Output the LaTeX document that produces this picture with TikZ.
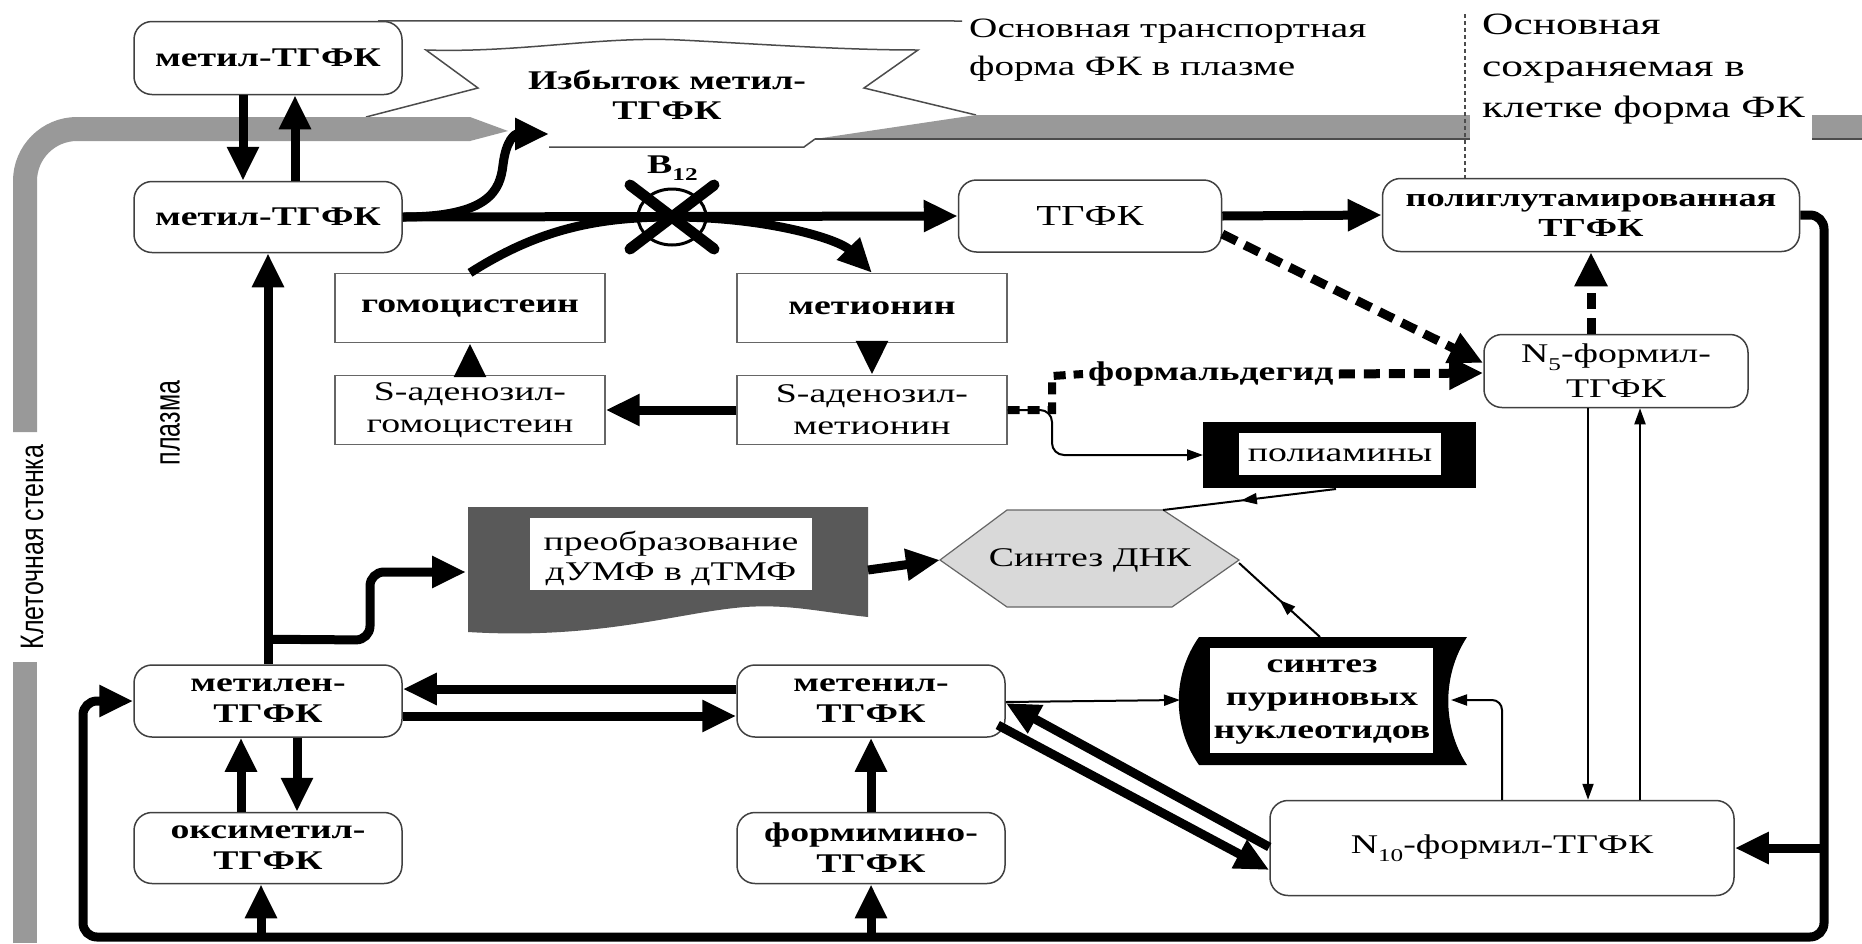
\documentclass[tikz,border=0pt]{standalone}
\usepackage{fontspec}
\usepackage{graphicx}
\setmainfont[FakeStretch=1.4]{Liberation Serif}
\newfontfamily\sansf{Liberation Sans}
\usetikzlibrary{arrows.meta,decorations.markings}
\newcommand{\mysub}[1]{\raisebox{-0.28em}{\fontsize{18}{18}\selectfont #1}}
\begin{document}
\begin{tikzpicture}[x=1pt,y=-1pt,
  every node/.style={font=\fontsize{27}{31}\selectfont, inner sep=0pt, align=center},
  bft/.style={font=\fontsize{27}{31}\selectfont\bfseries},
  rbox/.style={draw=black!75, line width=1.5pt, rounded corners=18pt, fill=white},
  sbox/.style={draw=black!60, line width=1.3pt, fill=white, minimum width=270pt, minimum height=69pt},
  thk/.style={line width=9pt, -{Triangle[length=34pt,width=30pt]}},
  thn/.style={line width=2pt, -{Triangle[length=16pt,width=11pt]}},
  dsh/.style={line width=9pt, dash pattern=on 16pt off 9pt, -{Triangle[length=34pt,width=31pt]}},
  midarr/.style={line width=2pt, postaction={decorate}, decoration={markings, mark=at position #1 with {\arrow{Triangle[length=16pt,width=11pt]}}}},
  wall/.style={line width=24pt, draw=black!40},
  thinl/.style={line width=1.5pt, draw=black!70},
]
\fill[white] (0,0) rectangle (1862,943);
\useasboundingbox (0,0) rectangle (1862,943);

% coordinates
\coordinate (xs) at (549,134);
\coordinate (b12) at (672,217);
\coordinate (dumpL) at (466,572);
\coordinate (dumpR) at (868,570);
\coordinate (dnaL) at (940,560);
\coordinate (dnaTR) at (1163,510);
\coordinate (dnaR) at (1239,563);
\coordinate (polyL) at (1203,455);
\coordinate (polyB) at (1336,489);
\coordinate (purL) at (1180,700);
\coordinate (purR) at (1451,700);
\coordinate (purT) at (1320,637);
\coordinate (cR) at (1824,0);
\coordinate (cB) at (0,937);
\coordinate (cL) at (83,0);
\coordinate (annA) at (962,21);
\coordinate (dv) at (1465,14);

% callout
\fill[white] (426,50) .. controls (520,53) and (600,36) .. (680,40) .. controls (760,44) and (840,50) .. (918,50) -- (864,88) -- (976,115) -- (815,139) -- (804,147) -- (549,147) -- (500,140) -- (366,117) -- (478,88) -- cycle;
\draw[thinl] (366,117) -- (478,88) -- (426,50) .. controls (520,53) and (600,36) .. (680,40) .. controls (760,44) and (840,50) .. (918,50) -- (864,88) -- (976,115);
\draw[thinl] (815,139) -- (804,147) -- (549,147);

% cell wall
\draw[wall] (25,943) -- (25,662);
\draw[wall, rounded corners=52pt] (25,432) -- (25,129) -- (470,129);
\fill[black!40] (470,117) -- (508,131) -- (470,141) -- cycle;
\fill[black!40] (815,139) -- (976,115) -- (1862,115) -- (1862,139) -- cycle;
\draw[line width=1.5pt, black!70] (815,139) -- (1862,139);
\fill[white] (1470,96) rectangle (1812,141);

% special shapes
\fill[black!65] (468,507) -- (868,507) -- (868,617) .. controls (820,612) and (790,604) .. (745,607) .. controls (680,612) and (600,640) .. (468,632) -- cycle;
\fill[white] (530,518) rectangle (812,590);
\filldraw[fill=black!15, draw=black!60, line width=1.2pt] (dnaL) -- (1007,510) -- (dnaTR) -- (1239,560) -- (1172,607) -- (1007,607) -- cycle;
\fill[black] (1203,422) rectangle (1476,488);
\fill[white] (1239,433) rectangle (1441,475);
\fill[black] (1199,637) -- (1467,637) .. controls (1442,675) and (1442,727) .. (1467,765) -- (1199,765) .. controls (1172,727) and (1172,675) .. (1199,637) -- cycle;
\fill[white] (1210,648) rectangle (1433,753);

% nodes
\node[rbox,bft,minimum width=268pt,minimum height=73pt] (m1) at (268,58) {метил-ТГФК};
\node[rbox,bft,minimum width=268pt,minimum height=71pt] (m2) at (268,217) {метил-ТГФК};
\node[rbox,minimum width=263pt,minimum height=72pt,font=\fontsize{29}{31}\selectfont] (tg) at (1090,216) {ТГФК};
\node[rbox,minimum width=417pt,minimum height=73pt,font=\fontsize{26}{30}\selectfont\bfseries] (pg) at (1591,215) {полиглутамированная\\ТГФК};
\node[sbox,bft] (hc) at (470,308) {гомоцистеин};
\node[sbox,bft] (mt) at (872,308) {метионин};
\node[sbox,font=\fontsize{27}{32}\selectfont] (sah) at (470,410) {S-аденозил-\\гомоцистеин};
\node[sbox,font=\fontsize{27}{32}\selectfont] (sam) at (872,410) {S-аденозил-\\метионин};
\node[rbox,minimum width=264pt,minimum height=73pt,font=\fontsize{27}{35}\selectfont] (n5) at (1616,371) {N\mysub{5}-формил-\\ТГФК};
\node[rbox,minimum width=464pt,minimum height=95pt] (n10) at (1502,848) {N\mysub{10}-формил-ТГФК};
\node[rbox,bft,minimum width=268pt,minimum height=72pt] (mlen) at (268,701) {метилен-\\ТГФК};
\node[rbox,bft,minimum width=268pt,minimum height=72pt] (mten) at (871,701) {метенил-\\ТГФК};
\node[rbox,bft,minimum width=268pt,minimum height=71pt] (oxy) at (268,848) {оксиметил-\\ТГФК};
\node[rbox,bft,minimum width=268pt,minimum height=71pt] (frm) at (871,848) {формимино-\\ТГФК};

\node[font=\fontsize{27}{30}\selectfont] (dump) at (671,558) {преобразование\\дУМФ в дТМФ};
\node (dna) at (1090,560) {Синтез ДНК};
\node (poly) at (1340,455) {полиамины};
\node[font=\fontsize{27}{33}\selectfont\bfseries] (pur) at (1322,702) {синтез\\пуриновых\\нуклеотидов};
\node[font=\fontsize{27}{30}\selectfont\bfseries] (exc) at (667,95) {Избыток метил-\\ТГФК};
\node[anchor=west, bft, inner sep=5pt] (fm) at (1083,374) {формальдегид};
\node[anchor=west] (b12l) at (647,168) {\bfseries B\mysub{12}};
\node[anchor=north west, align=left, font=\fontsize{28}{38}\selectfont] (ann1) at (969,19) {Основная транспортная\\форма ФК в плазме};
\node[anchor=north west, align=left, font=\fontsize{31}{41.5}\selectfont] (ann2) at (1482,14) {Основная\\сохраняемая в\\клетке форма ФК};
\node[rotate=90, font=\sansf\fontsize{25}{25}\selectfont] (wallt) at (32,547) {\scalebox{1}[1.3]{Клеточная стенка}};
\node[rotate=90, font=\sansf\fontsize{25}{25}\selectfont] (plasma) at (170,423) {\scalebox{1}[1.45]{плазма}};

% annotation pointers
\draw[thinl] ([xshift=110pt]m1.north) -- (annA);
\draw[line width=1.2pt, black!70, dash pattern=on 4pt off 3pt] (dv) -- (dv |- pg.north);

% connectors
\draw[thk] ([xshift=-25pt]m1.south) -- ([xshift=-25pt]m2.north);
\draw[thk] ([xshift=27pt]m2.north) -- ([xshift=27pt]m1.south);
\draw[thk] (m2.east) -- (tg.west);
\draw[thk] (m2.east) .. controls (490,217) and (500,190) .. (503,165) .. controls (506,140) and (515,134) .. (xs);
\draw[thk] (hc.north) .. controls (540,228) and (600,217) .. (b12) .. controls (770,217) and (840,240) .. (mt.north);
\draw[line width=3pt] (b12) ellipse [x radius=34, y radius=28];
\draw[line width=11pt, line cap=round] (630,185) -- (714,249);
\draw[line width=11pt, line cap=round] (714,185) -- (630,249);
\draw[thk] (tg.east) -- (pg.west);
\draw[dsh] ([yshift=-18pt]tg.east) -- ([yshift=8pt]n5.west);
\draw[thn, rounded corners=12pt] (sam.east) -- (1052,410) -- (1052,455) -- (polyL);
\draw[line width=8pt, dash pattern=on 12pt off 8pt] (sam.east) -- (1052,410) -- (1052,376) -- (fm.west);
\draw[dsh] (fm.east) -- ([yshift=-2pt]n5.west);
\draw[midarr=0.55] (polyB) -- (dnaTR);
\draw[midarr=0.5] (purT) -- (dnaR);
\draw[thk] (dumpR) -- (dnaL);
\draw[thk] (mlen.north) -- (m2.south);
\draw[thk, rounded corners=14pt] ([yshift=25pt]mlen.north) -- (370,640) -- (370,572) -- (dumpL);
\draw[thk] (sam.west) -- (sah.east);
\draw[thk] (sah.north) -- (hc.south);
\draw[thk] (mt.south) -- (sam.north);
\draw[thk] ([yshift=12pt]mten.west) -- ([yshift=12pt]mlen.east);
\draw[thk] ([yshift=-15pt]mlen.east) -- ([yshift=-15pt]mten.west);
\draw[thk] ([xshift=-27pt]oxy.north) -- ([xshift=-27pt]mlen.south);
\draw[thk] ([xshift=29pt]mlen.south) -- ([xshift=29pt]oxy.north);
\draw[thk] (frm.north) -- (mten.south);
\draw[thn] ([yshift=-1pt]mten.east) -- (purL);
\draw[thk] ([yshift=1pt]n10.west) -- ([yshift=-2pt]mten.east);
\draw[thk] ([xshift=-8pt,yshift=-24pt]mten.east) -- ([yshift=-22pt]n10.west);
\coordinate (a1) at ([xshift=-28pt]n5.south);
\coordinate (a2) at ([xshift=24pt]n5.south);
\draw[thn] (a1) -- (a1 |- n10.north);
\draw[thn] (a2 |- n10.north) -- (a2);
\draw[thn, rounded corners=10pt] (n10.north) -- (n10.north |- purR) -- (purR);
\draw[dsh] (pg.south |- n5.north) -- (pg.south);
\draw[thk, rounded corners=14pt] (pg.east) -- (pg.east -| cR) -- (cR |- cB) -- (cL |- cB) -- (cL |- mlen.west) -- (mlen.west);
\draw[thk] (cR |- n10.east) -- (n10.east);
\coordinate (o1) at ([xshift=-7pt]oxy.south);
\draw[thk] (o1 |- cB) -- (o1);
\draw[thk] (frm.south |- cB) -- (frm.south);
\end{tikzpicture}
\end{document}
